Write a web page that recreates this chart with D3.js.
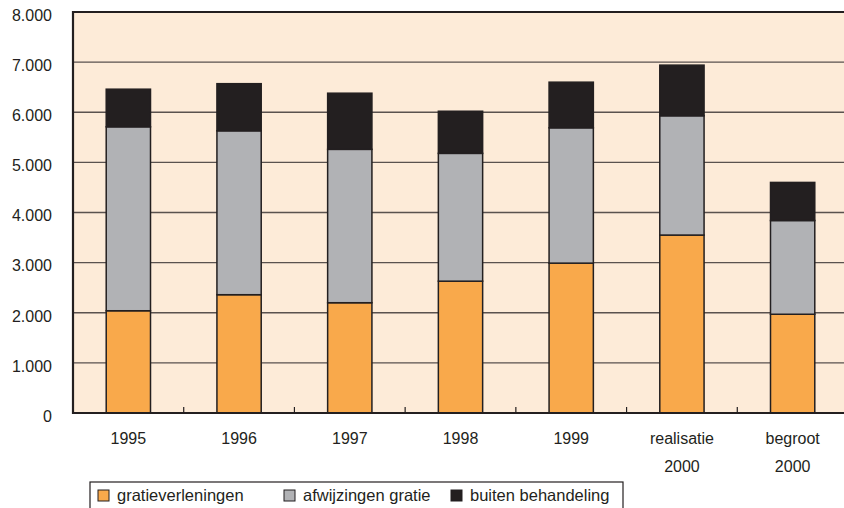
<!DOCTYPE html>
<html>
<head>
<meta charset="utf-8">
<script src="https://cdn.jsdelivr.net/npm/d3@7"></script>
<style>
  body { margin: 0; background: #fff; }
  text { font-family: "Liberation Sans", Arial, sans-serif; fill: #231f20; }
</style>
</head>
<body>
<div class="chart"></div>
<script>
// gegevens
const categories = ['1995', '1996', '1997', '1998', '1999', 'realisatie\n2000', 'begroot\n2000']
const gratieverleningen = [2040, 2360, 2200, 2630, 2990, 3550, 1970]
const afwijzingen = [3670, 3270, 3060, 2550, 2700, 2380, 1870]
const buiten = [750, 940, 1120, 840, 910, 1010, 760]
const yTicks = [0, 1000, 2000, 3000, 4000, 5000, 6000, 7000, 8000]
const seriesNames = ['gratieverleningen', 'afwijzingen gratie', 'buiten behandeling']
const seriesColors = ['#f9a94b', '#b1b2b5', '#231f20']

const margin = {top: 12, right: -4, bottom: 95, left: 73}
const fullWidth = 844
const fullHeight = 508
const width = fullWidth - margin.left - margin.right
const height = fullHeight - margin.top - margin.bottom

const rows = categories.map((c, i) => ({
  cat: c,
  gratieverleningen: gratieverleningen[i],
  afwijzingen: afwijzingen[i],
  buiten: buiten[i]
}))
const keys = ['gratieverleningen', 'afwijzingen', 'buiten']
const stacked = d3.stack().keys(keys)(rows)

const svg = d3.select('.chart')
  .append('svg')
    .attr('width', fullWidth)
    .attr('height', fullHeight)
    .style('display', 'block')

const g = svg.append('g')
  .attr('transform', `translate(${margin.left}, ${margin.top})`)

const xScale = d3.scaleBand()
  .domain(categories)
  .range([0, width])
  .paddingInner(0)

const yScale = d3.scaleLinear()
  .domain([0, 8000])
  .range([height, 0])

// achtergrond
g.append('rect')
  .attr('width', width)
  .attr('height', height)
  .attr('fill', '#fdebd8')

// rasterlijnen
g.selectAll('.grid')
  .data(yTicks.filter(d => d > 0 && d < 8000))
  .enter()
  .append('line')
    .attr('x1', 0)
    .attr('x2', width)
    .attr('y1', d => yScale(d))
    .attr('y2', d => yScale(d))
    .attr('stroke', '#231f20')
    .attr('stroke-opacity', 0.75)
    .attr('stroke-width', 1.3)

// bovenrand
g.append('line')
  .attr('x1', 0).attr('x2', width)
  .attr('y1', 0).attr('y2', 0)
  .attr('stroke', '#231f20')
  .attr('stroke-width', 2)

// staven
const barW = xScale.bandwidth() * 0.4
stacked.forEach((layer, li) => {
  g.selectAll('.bar' + li)
    .data(layer)
    .enter()
    .append('rect')
      .attr('x', d => xScale(d.data.cat) + (xScale.bandwidth() - barW) / 2)
      .attr('y', d => yScale(d[1]))
      .attr('width', barW)
      .attr('height', d => yScale(d[0]) - yScale(d[1]))
      .attr('fill', seriesColors[li])
      .attr('stroke', '#231f20')
      .attr('stroke-width', 1.5)
})

// y-as
const yAxis = d3.axisLeft(yScale)
  .tickValues(yTicks)
  .tickSize(0)
  .tickPadding(21)
  .tickFormat(d => d === 0 ? '0' : d3.format(',')(d).replace(',', '.'))
const yg = g.append('g').call(yAxis)
yg.select('.domain').remove()
yg.selectAll('text')
  .attr('dy', '0.52em')
  .style('font-size', '16px')
  .style('font-family', '"Liberation Sans", Arial, sans-serif')
  .attr('fill', '#231f20')

g.append('line')
  .attr('x1', 0).attr('x2', 0)
  .attr('y1', -1).attr('y2', height + 1)
  .attr('stroke', '#231f20')
  .attr('stroke-width', 2.2)

// x-as
g.append('line')
  .attr('x1', 0).attr('x2', width)
  .attr('y1', height).attr('y2', height)
  .attr('stroke', '#231f20')
  .attr('stroke-width', 2.2)

g.selectAll('.xtick')
  .data(categories.slice(1))
  .enter()
  .append('line')
    .attr('x1', d => xScale(d))
    .attr('x2', d => xScale(d))
    .attr('y1', height)
    .attr('y2', height - 6)
    .attr('stroke', '#231f20')
    .attr('stroke-width', 1.2)

const xl = g.selectAll('.xlabel')
  .data(categories)
  .enter()
  .append('text')
    .attr('x', d => xScale(d) + xScale.bandwidth() / 2)
    .attr('y', height + 31)
    .attr('text-anchor', 'middle')
    .style('font-size', '16px')

xl.each(function(d) {
  const lines = d.split('\n')
  const t = d3.select(this)
  lines.forEach((l, i) => {
    t.append('tspan')
      .attr('x', t.attr('x'))
      .attr('dy', i === 0 ? 0 : 28)
      .text(l)
  })
})

// legenda
const legend = svg.append('g')
  .attr('transform', 'translate(90, 482)')

legend.append('rect')
  .attr('x', 0).attr('y', 0)
  .attr('width', 533).attr('height', 40)
  .attr('fill', '#fff')
  .attr('stroke', '#231f20')
  .attr('stroke-width', 1.2)

const legendX = [8, 194, 361]
seriesNames.forEach((name, i) => {
  legend.append('rect')
    .attr('x', legendX[i])
    .attr('y', 8)
    .attr('width', 11)
    .attr('height', 11)
    .attr('fill', seriesColors[i])
    .attr('stroke', '#231f20')
    .attr('stroke-width', 1)
  legend.append('text')
    .attr('x', legendX[i] + 19)
    .attr('y', 19)
    .style('font-size', '16.5px')
    .text(name)
})
</script>
</body>
</html>
